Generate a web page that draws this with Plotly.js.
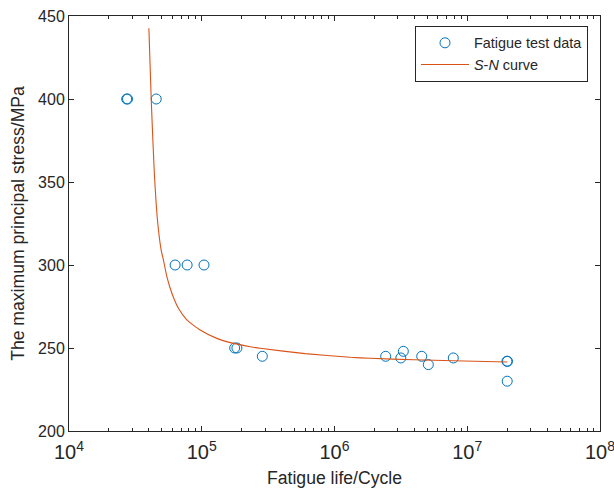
<!DOCTYPE html>
<html>
<head>
<meta charset="utf-8">
<script src="https://cdn.plot.ly/plotly-3.0.1.min.js"></script>
<style>html,body{margin:0;padding:0;background:#fff;}#chart{width:614px;height:488px;}</style>
</head>
<body>
<div id="chart"></div>
<script>
// Fatigue test data (cycles, MPa)
const testLife = [27200, 27600, 45400, 63000, 77600, 104000, 177000, 184000, 286000,
  2430000, 3300000, 3160000, 4540000, 5090000, 7850000, 19900000, 20100000, 20000000];
const testStress = [400, 400, 400, 300, 300, 300, 250, 250, 245,
  245, 248, 244, 245, 240, 244, 242, 242, 230];

// S-N curve points
const curveLife = [39970, 41600, 43820, 46390, 49460, 51470, 54600, 59550, 66760, 77220,
  97270, 129950, 173300, 231500, 275400, 600000, 1311000, 1854000, 4000000, 7850000, 20000000];
const curveStress = [442.6, 400.4, 357.2, 327.1, 309.0, 303.0, 293.0, 283.0, 273.9, 266.9,
  260.8, 255.8, 252.8, 250.8, 249.8, 246.6, 244.4, 243.8, 242.9, 242.3, 241.6];

const font = {family: 'Arial, "Liberation Sans", sans-serif', color: '#262626'};

const traces = [
  {
    x: testLife, y: testStress, type: 'scatter', mode: 'markers',
    name: 'Fatigue test data',
    marker: {symbol: 'circle-open', size: 10, color: '#0072BD', line: {width: 1, color: '#0072BD'}}
  },
  {
    x: curveLife, y: curveStress, type: 'scatter', mode: 'lines',
    name: '<i>S</i>-<i>N</i> curve',
    line: {color: '#D95319', width: 1.1, shape: 'spline', smoothing: 0.5}
  }
];

const layout = {
  width: 614, height: 488,
  margin: {l: 69, r: 14, t: 16, b: 57},
  paper_bgcolor: '#fff', plot_bgcolor: '#fff',
  font: Object.assign({size: 16}, font),
  showlegend: true,
  legend: {
    x: 0.6516, y: 0.976, xanchor: 'left', yanchor: 'top',
    bgcolor: '#fff', bordercolor: '#262626', borderwidth: 1,
    font: Object.assign({size: 14.4}, font),
    tracegroupgap: 0, itemwidth: 48
  },
  xaxis: {
    type: 'log', range: [4, 8], dtick: 1, exponentformat: 'power',
    showgrid: false, zeroline: false,
    showline: true, linecolor: '#262626', linewidth: 1, mirror: 'ticks',
    ticks: 'inside', ticklen: 5, tickcolor: '#262626',
    ticklabeloverflow: 'allow', ticklabelstandoff: 4,
    minor: {dtick: 'D1', ticks: 'inside', ticklen: 3, tickcolor: '#262626', showgrid: false},
    tickfont: Object.assign({size: 16}, font),
    title: {text: 'Fatigue life/Cycle', font: Object.assign({size: 17.6}, font), standoff: 10}
  },
  yaxis: {
    range: [200, 450], dtick: 50,
    showgrid: false, zeroline: false,
    showline: true, linecolor: '#262626', linewidth: 1, mirror: 'ticks',
    ticks: 'inside', ticklen: 5, tickcolor: '#262626',
    ticklabeloverflow: 'allow',
    tickfont: Object.assign({size: 16}, font),
    title: {text: 'The maximum principal stress/MPa', font: Object.assign({size: 17.6}, font), standoff: 8}
  }
};

Plotly.newPlot('chart', traces, layout, {staticPlot: true, displayModeBar: false});
</script>
</body>
</html>
